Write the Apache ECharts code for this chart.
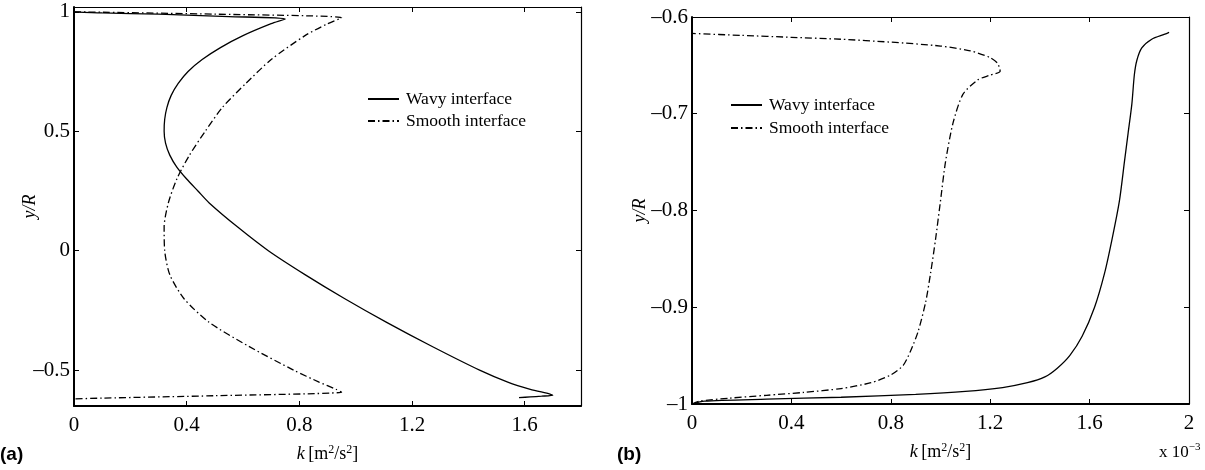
<!DOCTYPE html>
<html><head><meta charset="utf-8">
<script src="https://cdn.jsdelivr.net/npm/echarts@6/dist/echarts.min.js"></script>
<style>html,body{margin:0;padding:0;background:#fff}#c{width:1205px;height:470px}</style>
</head><body><div id="c"></div>
<script>
// ---- Panel (a) data: k [m^2/s^2] vs y/R ----
const aWavyK = [0.0, 0.1, 0.3, 0.55, 0.75, 0.70, 0.60, 0.52, 0.455, 0.405, 0.37, 0.345, 0.33, 0.322, 0.32, 0.325, 0.34, 0.365, 0.40, 0.44, 0.48, 0.58, 0.69, 0.82, 0.96, 1.11, 1.27, 1.44, 1.54, 1.62, 1.69, 1.70, 1.66, 1.62, 1.58];
const aWavyY = [1.0, 0.995, 0.99, 0.98, 0.97, 0.95, 0.9, 0.85, 0.8, 0.75, 0.7, 0.65, 0.6, 0.55, 0.5, 0.45, 0.4, 0.35, 0.3, 0.25, 0.2, 0.1, 0.0, -0.1, -0.2, -0.3, -0.4, -0.5, -0.55, -0.58, -0.6, -0.605, -0.609, -0.612, -0.615];
const aSmoothK = [0.0, 0.1, 0.5, 0.95, 0.90, 0.82, 0.70, 0.61, 0.527, 0.466, 0.41, 0.365, 0.335, 0.32, 0.322, 0.34, 0.39, 0.48, 0.62, 0.78, 0.87, 0.93, 0.95, 0.5, 0.1, 0.0];
const aSmoothY = [1.0, 0.998, 0.99, 0.975, 0.95, 0.9, 0.8, 0.7, 0.6, 0.5, 0.4, 0.3, 0.2, 0.1, 0.0, -0.1, -0.2, -0.3, -0.4, -0.5, -0.55, -0.58, -0.592, -0.607, -0.617, -0.62];
const aXTicks = [0, 0.4, 0.8, 1.2, 1.6];
const aYTicks = [-0.5, 0, 0.5, 1];

// ---- Panel (b) data: k [x10^-3 m^2/s^2] vs y/R ----
const bWavyK = [0, 0.05, 0.3, 0.6, 0.9, 1.1, 1.25, 1.35, 1.42, 1.47, 1.52, 1.57, 1.62, 1.66, 1.69, 1.72, 1.74, 1.755, 1.77, 1.78, 1.79, 1.81, 1.85, 1.9, 1.92];
const bWavyY = [-1.0, -0.997, -0.995, -0.993, -0.99, -0.987, -0.983, -0.978, -0.972, -0.963, -0.95, -0.93, -0.9, -0.865, -0.83, -0.79, -0.75, -0.72, -0.69, -0.66, -0.645, -0.632, -0.623, -0.618, -0.616];
const bSmoothK = [0, 0.03, 0.15, 0.3, 0.45, 0.6, 0.72, 0.8, 0.85, 0.88, 0.91, 0.94, 0.96, 0.98, 1.0, 1.02, 1.05, 1.09, 1.15, 1.2, 1.24, 1.23, 1.2, 1.12, 1.0, 0.8, 0.6, 0.4, 0.2, 0];
const bSmoothY = [-1.0, -0.997, -0.994, -0.991, -0.988, -0.984, -0.978, -0.97, -0.96, -0.945, -0.925, -0.895, -0.865, -0.83, -0.79, -0.75, -0.71, -0.68, -0.665, -0.66, -0.656, -0.648, -0.642, -0.635, -0.63, -0.626, -0.623, -0.621, -0.619, -0.617];
const bXTicks = [0, 0.4, 0.8, 1.2, 1.6, 2];
const bYTicks = [-1, -0.9, -0.8, -0.7, -0.6];

const seriesNames = ['Wavy interface', 'Smooth interface'];

const zip = (xs, ys) => xs.map((x, i) => [x, ys[i]]);
const FONT = 'Liberation Serif';
const fmt = v => String(+v.toFixed(2)).replace('-', '\u2013');
const DASHDOT = [7, 3, 1.5, 3];

const tickCommon = { inside: true, length: 5, lineStyle: { color: '#000', width: 1 } };
function xAxes(gi, min, max, ticks) {
  return [
    { type: 'value', gridIndex: gi, min, max, position: 'bottom',
      axisLine: { show: true, onZero: false, lineStyle: { color: '#000', width: 2 } },
      axisTick: Object.assign({ customValues: ticks }, tickCommon),
      axisLabel: { customValues: ticks, formatter: fmt, color: '#000', fontFamily: FONT, fontSize: 21, margin: 9 },
      splitLine: { show: false },
      name: '{i|k} {n|[m}{s|2}{n|/s}{s|2}{n|]}', nameLocation: 'middle', nameGap: 38, nameMoveOverlap: false,
      nameTextStyle: { color: '#000', rich: {
        i: { fontFamily: FONT, fontStyle: 'italic', fontSize: 18, color: '#000', lineHeight: 21 },
        n: { fontFamily: FONT, fontSize: 18, color: '#000', lineHeight: 21 },
        s: { fontFamily: FONT, fontSize: 12, color: '#000', verticalAlign: 'top', lineHeight: 12 } } } },
    { type: 'value', gridIndex: gi, min, max, position: 'top',
      axisLine: { show: true, onZero: false, lineStyle: { color: '#000', width: 1.2 } },
      axisTick: Object.assign({ customValues: ticks }, tickCommon),
      axisLabel: { show: false }, splitLine: { show: false } }
  ];
}
function yAxes(gi, min, max, ticks, gap) {
  return [
    { type: 'value', gridIndex: gi, min, max, position: 'left',
      axisLine: { show: true, onZero: false, lineStyle: { color: '#000', width: 2 } },
      axisTick: Object.assign({ customValues: ticks }, tickCommon),
      axisLabel: { customValues: ticks, formatter: fmt, color: '#000', fontFamily: FONT, fontSize: 21, margin: 4 },
      splitLine: { show: false },
      name: 'y/R', nameLocation: 'middle', nameGap: gap, nameMoveOverlap: false,
      nameTextStyle: { color: '#000', fontFamily: FONT, fontStyle: 'italic', fontSize: 18 } },
    { type: 'value', gridIndex: gi, min, max, position: 'right',
      axisLine: { show: true, onZero: false, lineStyle: { color: '#000', width: 1.2 } },
      axisTick: Object.assign({ customValues: ticks }, tickCommon),
      axisLabel: { show: false }, splitLine: { show: false } }
  ];
}
function mkSeries(name, data, gi, dash) {
  return { name, type: 'line', xAxisIndex: gi * 2, yAxisIndex: gi * 2, data,
    symbol: 'none', showSymbol: false, smooth: 0.25, clip: true, animation: false,
    itemStyle: { color: '#000' },
    lineStyle: { color: '#000', width: 1.3, type: dash ? DASHDOT : 'solid' } };
}
const legendCommon = { orient: 'vertical', itemWidth: 31, itemHeight: 10, selectedMode: false,
  itemStyle: { opacity: 0, borderWidth: 0 },
  textStyle: { fontFamily: FONT, fontSize: 17.5, color: '#000', padding: [0, 0, 0, 2] } };

const chart = echarts.init(document.getElementById('c'), null, { renderer: 'canvas' });
chart.setOption({
  animation: false,
  backgroundColor: '#fff',
  grid: [
    { left: 74, top: 7, width: 507, height: 399, containLabel: false },
    { left: 692, top: 17, width: 497, height: 387, containLabel: false }
  ],
  xAxis: [...xAxes(0, 0, 1.8, aXTicks), ...xAxes(1, 0, 2, bXTicks)],
  yAxis: [...yAxes(0, -0.65, 1.02, aYTicks, 35), ...yAxes(1, -1, -0.6, bYTicks, 43)],
  legend: [
    Object.assign({ data: seriesNames, left: 362, top: 85, itemGap: 4 }, legendCommon),
    Object.assign({ data: seriesNames.map(n => n + ' '), left: 725, top: 91, itemGap: 5,
      formatter: n => n.trim() }, legendCommon)
  ],
  series: [
    mkSeries(seriesNames[0], zip(aWavyK, aWavyY), 0, false),
    mkSeries(seriesNames[1], zip(aSmoothK, aSmoothY), 0, true),
    mkSeries(seriesNames[0] + ' ', zip(bWavyK, bWavyY), 1, false),
    mkSeries(seriesNames[1] + ' ', zip(bSmoothK, bSmoothY), 1, true)
  ],
  graphic: [
    { type: 'text', left: 0, top: 445, style: { text: '(a)', fontFamily: 'Liberation Sans', fontWeight: 'bold', fontSize: 19, fill: '#000' } },
    { type: 'text', left: 617, top: 445, style: { text: '(b)', fontFamily: 'Liberation Sans', fontWeight: 'bold', fontSize: 19, fill: '#000' } },
    { type: 'text', left: 1159, top: 442, style: { text: '{n|x 10}{s|\u22123}', rich: {
        n: { fontFamily: FONT, fontSize: 17, fill: '#000', lineHeight: 22 },
        s: { fontFamily: FONT, fontSize: 11, fill: '#000', verticalAlign: 'top', lineHeight: 12 } } } }
  ]
});
</script></body></html>
